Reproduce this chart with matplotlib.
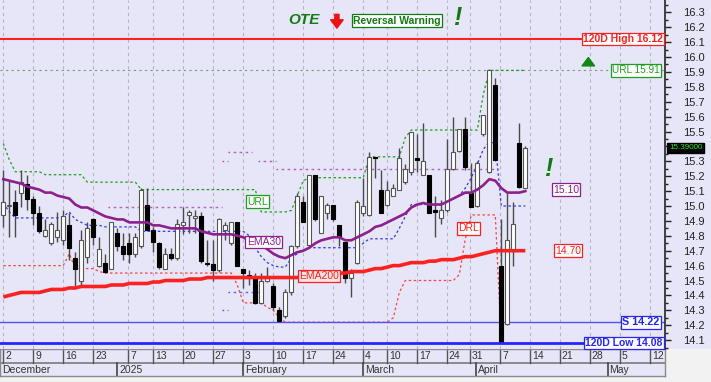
import matplotlib
matplotlib.use('Agg')
import matplotlib.pyplot as plt
import numpy as np
from matplotlib.patches import Rectangle

plt.rcParams['font.family'] = ['Liberation Sans', 'DejaVu Sans']

# ---------------- data ----------------
opens = [14.94, 15.00, 15.03, 15.09, 15.15, 15.05, 14.95, 14.80, 14.75, 14.79,
         14.77, 14.87, 14.65, 14.50, 14.66, 14.91, 14.60, 14.62, 14.58, 14.82,
         14.73, 14.75, 14.68, 14.73, 15.01, 14.84, 14.75, 14.58, 14.68, 14.65,
         14.87, 14.94, 14.92, 14.93, 14.62, 14.61, 14.57, 14.84, 14.75, 14.89,
         14.58, 14.54, 14.52, 14.35, 14.50, 14.46, 14.30, 14.26, 14.42, 14.73,
         15.03, 14.74, 15.21, 14.82, 14.95, 15.01, 14.87, 14.76, 14.52, 14.62,
         14.95, 14.94, 15.33, 15.11, 15.01, 15.07, 15.11, 15.16, 15.23, 15.32,
         15.21, 15.21, 14.97, 14.92, 14.97, 15.25, 15.37, 15.52, 15.09, 15.00,
         15.48, 15.23, 15.81, 14.60, 14.21, 14.70, 15.42, 15.12]
highs = [15.24, 15.17, 15.11, 15.24, 15.21, 15.07, 15.00, 14.91, 14.89, 14.96,
         14.97, 14.95, 14.69, 14.84, 14.89, 14.92, 14.79, 14.68, 14.89, 14.85,
         14.82, 14.82, 14.82, 15.12, 15.12, 14.86, 14.76, 14.72, 14.72, 14.91,
         14.99, 14.97, 14.97, 14.96, 14.77, 14.77, 14.92, 14.89, 14.89, 14.89,
         14.58, 14.57, 14.55, 14.55, 14.59, 14.48, 14.32, 14.44, 14.74, 15.09,
         15.07, 15.21, 15.21, 15.07, 15.02, 15.01, 14.87, 14.76, 14.58, 15.04,
         15.19, 15.36, 15.33, 15.24, 15.17, 15.15, 15.39, 15.28, 15.50, 15.48,
         15.56, 15.21, 15.07, 15.04, 15.45, 15.60, 15.52, 15.60, 15.29, 15.30,
         15.61, 15.92, 15.86, 14.91, 15.09, 15.03, 15.56, 15.40]
lows = [14.86, 14.79, 14.79, 14.99, 14.97, 14.87, 14.82, 14.79, 14.74, 14.76,
        14.74, 14.64, 14.46, 14.47, 14.62, 14.74, 14.59, 14.55, 14.58, 14.70,
        14.64, 14.62, 14.66, 14.72, 14.83, 14.69, 14.58, 14.58, 14.64, 14.64,
        14.81, 14.82, 14.82, 14.62, 14.60, 14.50, 14.56, 14.77, 14.74, 14.60,
        14.45, 14.47, 14.34, 14.34, 14.49, 14.30, 14.22, 14.25, 14.40, 14.72,
        14.89, 14.73, 14.90, 14.82, 14.91, 14.90, 14.73, 14.48, 14.39, 14.61,
        14.93, 14.93, 15.19, 14.95, 15.00, 15.07, 15.11, 15.15, 15.21, 15.23,
        15.21, 14.95, 14.79, 14.88, 14.96, 15.24, 15.36, 15.24, 14.99, 14.99,
        15.47, 15.22, 15.30, 14.08, 14.20, 14.60, 15.12, 15.12]
closes = [15.03, 15.01, 14.94, 15.16, 15.05, 14.95, 14.83, 14.84, 14.88, 14.84,
          14.93, 14.72, 14.58, 14.77, 14.85, 14.79, 14.71, 14.56, 14.89, 14.73,
          14.68, 14.68, 14.79, 15.11, 14.84, 14.76, 14.59, 14.68, 14.65, 14.88,
          14.89, 14.96, 14.93, 14.63, 14.61, 14.57, 14.91, 14.87, 14.89, 14.60,
          14.55, 14.52, 14.35, 14.50, 14.52, 14.32, 14.23, 14.42, 14.73, 15.07,
          14.89, 15.21, 14.91, 15.07, 15.01, 14.91, 14.79, 14.52, 14.55, 15.03,
          15.00, 15.33, 15.32, 14.95, 15.11, 15.12, 15.32, 15.25, 15.50, 15.31,
          15.30, 14.95, 14.96, 14.97, 15.25, 15.36, 15.52, 15.26, 14.99, 15.29,
          15.61, 15.91, 15.31, 14.09, 14.77, 14.88, 15.13, 15.39]

ema30 = [15.18, 15.17, 15.16, 15.15, 15.13, 15.12, 15.11, 15.09, 15.09, 15.07,
         15.06, 15.05, 15.01, 14.99, 14.99, 14.97, 14.95, 14.93, 14.92, 14.91,
         14.91, 14.89, 14.89, 14.89, 14.89, 14.87, 14.87, 14.86, 14.85, 14.85,
         14.85, 14.85, 14.85, 14.83, 14.82, 14.81, 14.81, 14.81, 14.81, 14.80,
         14.79, 14.77, 14.76, 14.74, 14.71, 14.68, 14.66, 14.65, 14.67, 14.69,
         14.70, 14.72, 14.75, 14.77, 14.78, 14.79, 14.79, 14.77, 14.77, 14.79,
         14.81, 14.83, 14.86, 14.87, 14.89, 14.91, 14.93, 14.95, 14.99, 15.01,
         15.02, 15.01, 15.01, 15.01, 15.03, 15.05, 15.07, 15.09, 15.09, 15.11,
         15.14, 15.18, 15.17, 15.12, 15.09, 15.09, 15.09, 15.10]
ema200 = [14.39, 14.40, 14.41, 14.42, 14.42, 14.42, 14.42, 14.43, 14.44, 14.44,
          14.44, 14.45, 14.45, 14.46, 14.46, 14.46, 14.46, 14.46, 14.47, 14.47,
          14.47, 14.48, 14.48, 14.48, 14.48, 14.49, 14.49, 14.50, 14.50, 14.50,
          14.50, 14.51, 14.51, 14.51, 14.52, 14.52, 14.52, 14.52, 14.52, 14.52,
          14.52, 14.52, 14.52, 14.52, 14.52, 14.52, 14.52, 14.52, 14.52, 14.52,
          14.53, 14.53, 14.54, 14.54, 14.54, 14.54, 14.55, 14.55, 14.56, 14.56,
          14.56, 14.57, 14.58, 14.58, 14.59, 14.60, 14.60, 14.61, 14.62, 14.62,
          14.62, 14.63, 14.63, 14.64, 14.64, 14.64, 14.65, 14.66, 14.66, 14.67,
          14.68, 14.69, 14.70, 14.70, 14.70, 14.70, 14.70, 14.70]
url_line = ([15.42, 15.31] + [15.23] * 5 + [15.21] * 7 + [15.16] * 9 + [15.11] * 20
            + [14.96] * 5 + [14.97, 15.07, 15.17] + [15.19] * 10 + [15.33] * 6
            + [15.46] + [15.51] * 12 + [15.75] + [15.91] * 7)
drl_line = ([14.60] * 11 + [14.68] + [14.58] * 4 + [14.56] + [14.55] * 22 + [14.47]
            + [14.35] * 4 + [14.32, 14.30, 14.25] + [14.22] * 18 + [14.25, 14.42]
            + [14.50] * 9 + [14.54, 14.78] + [14.94] * 5 + [14.08] * 5)
blue_line = ([15.02, 14.96] + [14.92] * 8 + [14.93, 14.96, 14.91, 14.89] + [14.87] * 3
             + [14.86] * 6 + [14.83] * 18 + [14.80, 14.72, 14.66, 14.62, 14.60]
             + [14.59] * 2 + [14.65, 14.68, 14.70] + [14.72] * 9 + [14.75]
             + [14.78] * 5 + [14.85, 14.93] + [15.01] * 6
             + [15.03, 15.05, 15.07, 15.12, 15.19, 15.28, 15.38, 15.43, 15.42]
             + [15.00] * 5)
# short dotted level marks (None = not drawn)
purple_marks = ([None] * 18 + [14.99] * 19 + [15.30] + [15.36] * 4 + [None]
                + [15.30] * 3 + [15.25] * 37 + [None] * 5)
blue_marks = [None] * 37 + [14.30] + [14.42] * 5 + [None] * 45

high_120 = 16.12
low_120 = 14.08
support = 14.22
url_level = 15.91
last_price = 15.39

week_ticks = [0, 5, 9.9, 15, 20.8, 24.9, 29.9, 34.9, 39.9, 44.9, 49.9, 54.9, 59.9,
              63.9, 68.9, 73.9, 77.7, 82.8, 87.8, 92.7, 97.7, 102.7, 107.8]
week_labels = ['2', '9', '16', '23', '7', '13', '20', '27', '3', '10', '17', '24', '4',
               '10', '17', '24', '31', '7', '14', '21', '28', '5', '12']
month_bounds = [-0.55, 19.0, 39.9, 59.9, 78.8, 100.7]
month_labels = ['December', '2025', 'February', 'March', 'April', 'May']

# ---------------- style ----------------
BG = '#E6E6F8'
W, H = 711, 382
GREEN = '#1E9E1E'
PURPLE = '#8E1F8E'
RED = '#FF2020'
BLUE = '#2525FF'


def fr(x0, y0, x1, y1):
    return [x0 / W, 1 - y1 / H, (x1 - x0) / W, (y1 - y0) / H]


fig = plt.figure(figsize=(W / 100, H / 100), dpi=100)
fig.patch.set_facecolor('#F2F2F2')
fig.patches.append(Rectangle((0, 1 - 349 / H), 1, 349 / H, transform=fig.transFigure,
                             fc=BG, ec='none', zorder=-5))

ax = fig.add_axes(fr(0, 0, 665, 349))
ax.set_zorder(2)
ax.set_facecolor(BG)
n = len(opens)
x = np.arange(n)
o = np.array(opens); c = np.array(closes); hi = np.array(highs); lo = np.array(lows)
ax.set_xlim(-0.55, 110.28)
ax.set_ylim(14.0403, 16.3826)

for t in week_ticks:
    ax.axvline(t, color='#B4B4C4', lw=0.8, ls=(0, (3, 3)), zorder=1)

# indicator lines
ax.plot(x, url_line, color=GREEN, lw=0.9, ls=(0, (2, 2)), zorder=2)
ax.plot(x, drl_line, color='#FF4040', lw=0.9, ls=(0, (2, 2)), zorder=2)
ax.plot(x, blue_line, color='#3535FF', lw=0.9, ls=(0, (2, 2)), zorder=2)
ax.axhline(url_level, color='#70A070', lw=0.8, ls=(0, (2, 3)), zorder=1)

for vals, col in ((purple_marks, '#B050C0'), (blue_marks, '#5050FF')):
    xs = [i for i, v in enumerate(vals) if v is not None]
    ys = [v for v in vals if v is not None]
    ax.hlines(ys, np.array(xs) - 0.5, np.array(xs) + 0.5, colors=col, lw=1.0,
              linestyles=(0, (1.2, 2.5)), zorder=2)

# candles
up = c >= o
ax.vlines(x, lo, hi, color='#4A4A4A', lw=1, zorder=3)
bot = np.minimum(o, c)
hgt = np.maximum(np.abs(c - o), 0.006)
ax.bar(x[up], hgt[up], bottom=bot[up], width=0.7, color='white',
       edgecolor='#555555', lw=0.8, zorder=4)
ax.bar(x[~up], hgt[~up], bottom=bot[~up], width=0.7, color='black',
       edgecolor='black', lw=0.8, zorder=4)

ax.plot(x, ema200, color=RED, lw=2.6, zorder=5, solid_capstyle='butt')
ax.plot(x, ema30, color=PURPLE, lw=1.9, zorder=5)

ax.axhline(high_120, color=RED, lw=1.5, zorder=2)
ax.axhline(support, color='#5050FF', lw=1.0, zorder=2)
ax.axhline(low_120, color=BLUE, lw=2.0, zorder=6)


def box(xv, yv, s, col, fc='white', ha='center', size=7.5, weight='normal'):
    ax.text(xv, yv, s, color=col, ha=ha, va='center', fontsize=size, weight=weight,
            zorder=8, bbox=dict(boxstyle='square,pad=0.12', fc=fc, ec=col, lw=0.9))


box(42.3, 15.03, 'URL', GREEN)
box(43.4, 14.76, 'EMA30', PURPLE)
box(52.6, 14.53, 'EMA200', RED, fc='#FFE4E4')
box(77.5, 14.85, 'DRL', RED)
box(93.8, 15.11, f'{ema30[-1]:.2f}', PURPLE)
box(94.1, 14.70, f'{ema200[-1]:.2f}', RED)
box(109.4, url_level, f'URL {url_level:.2f}', GREEN, ha='right', size=7.2)
box(109.9, high_120, f'120D High {high_120:.2f}', RED, ha='right', size=7.5, weight='bold')
box(109.4, support, f'S {support:.2f}', BLUE, ha='right', size=7.8, weight='bold')
box(109.9, low_120, f'120D Low {low_120:.2f}', BLUE, ha='right', size=7.5, weight='bold')

# header marks
ax.text(50.1, 16.25, 'OTE', color='#127A12', fontsize=11, weight='bold', style='italic',
        ha='center', va='center', zorder=8)
ax.annotate('', xy=(55.6, 16.175), xytext=(55.6, 16.305),
            arrowprops=dict(arrowstyle='simple,head_width=0.9,head_length=0.6,tail_width=0.3',
                            fc='#EE1111', ec='#EE1111'), zorder=8)
box(65.6, 16.245, 'Reversal Warning', '#127A12', size=7.5, weight='bold')
ax.text(75.6, 16.26, '!', color='#127A12', fontsize=18, weight='bold', style='italic',
        ha='center', va='center', zorder=8)
ax.text(90.8, 15.25, '!', color='#127A12', fontsize=18, weight='bold', style='italic',
        ha='center', va='center', zorder=8)
ax.annotate('', xy=(97.5, 16.015), xytext=(97.5, 15.925),
            arrowprops=dict(arrowstyle='simple,head_width=0.9,head_length=0.6,tail_width=0.35',
                            fc='#118811', ec='#118811'), zorder=8)

# right price axis
ax.yaxis.tick_right()
ticks = np.round(np.arange(14.1, 16.31, 0.1), 1)
ax.set_yticks(ticks)
ax.set_yticklabels(['' if abs(t - 15.4) < 1e-6 else f'{t:.1f}' for t in ticks])
ax.set_yticks(np.round(np.arange(14.05, 16.36, 0.1), 2), minor=True)
ax.tick_params(axis='y', which='major', length=4, width=1, pad=9, labelsize=8,
               colors='#222222')
ax.tick_params(axis='y', which='minor', length=2.5, width=1, colors='#222222')
ax.set_xticks([])
for s in ['left', 'top', 'bottom']:
    ax.spines[s].set_visible(False)
ax.spines['right'].set_color('#333333')
ax.spines['right'].set_linewidth(1.3)

ax.text(1.006, last_price, f'{last_price:.5f}', transform=ax.get_yaxis_transform(),
        color='#22EE22', fontsize=5.8, ha='left', va='center', zorder=10, clip_on=False,
        bbox=dict(boxstyle='square,pad=0.2', fc='black', ec='black'))

# date band
dax = fig.add_axes(fr(0, 349, 665, 376))
dax.set_facecolor(BG)
dax.set_xlim(ax.get_xlim())
dax.set_ylim(0, 1)
dax.set_xticks([]); dax.set_yticks([])
for s in dax.spines.values():
    s.set_color('#8A8A8A'); s.set_linewidth(1)
dax.axhline(0.5, color='#7A7A7A', lw=1.2)
for t, lab in zip(week_ticks, week_labels):
    dax.plot([t, t], [0.5, 1], color='#555555', lw=1)
    dax.text(t + 0.35, 0.74, lab, fontsize=7.5, color='#333333', ha='left', va='center')
for b, lab in zip(month_bounds, month_labels):
    dax.plot([b, b], [0, 0.5], color='#444444', lw=1.2)
    dax.text(b + 0.35, 0.24, lab, fontsize=7.5, color='#333333', ha='left', va='center')

fig.savefig('out.png', dpi=100, facecolor=fig.get_facecolor())
